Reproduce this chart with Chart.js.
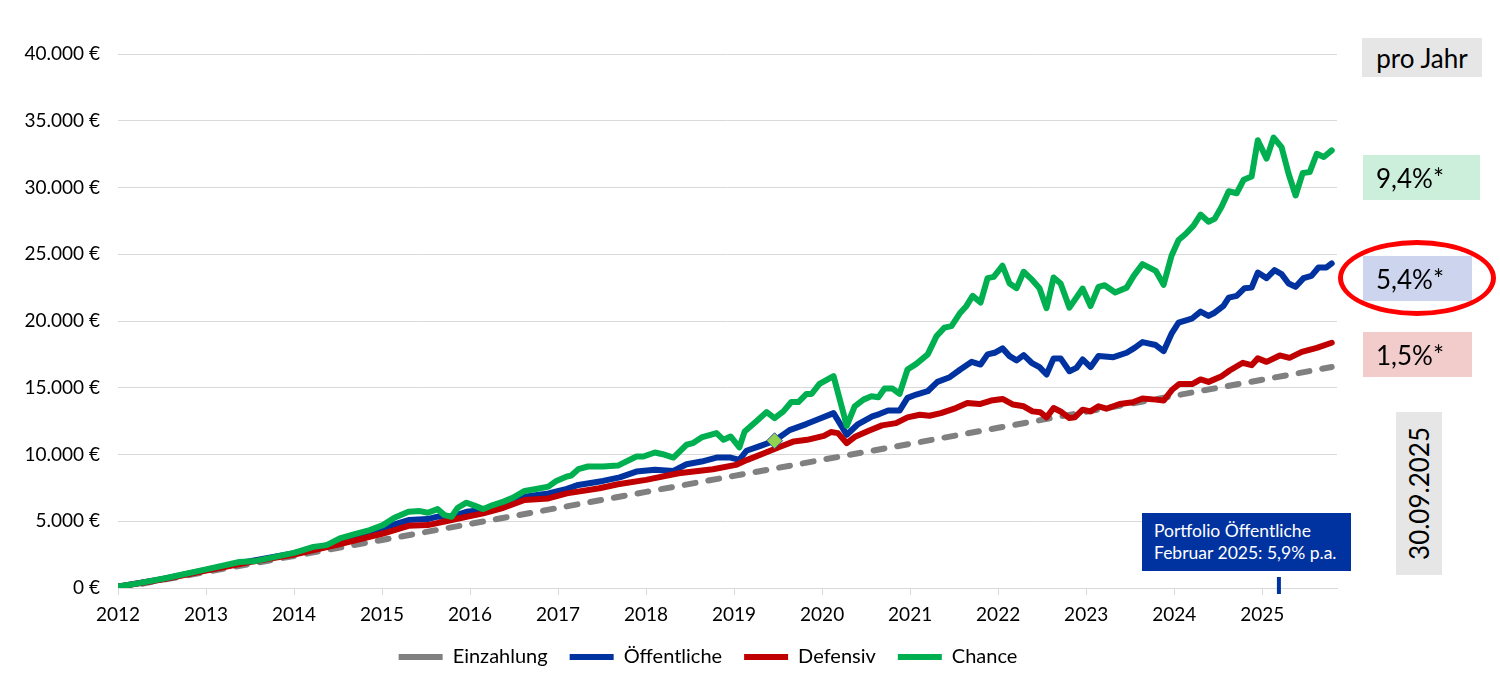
<!DOCTYPE html>
<html lang="de">
<head>
<meta charset="utf-8">
<title>Portfolio Vergleich</title>
<script src="https://cdn.jsdelivr.net/npm/chart.js@4.4.1/dist/chart.umd.min.js"></script>
<style>
    body { margin: 0; background: #fff; }
    #wrap { position: relative; width: 1500px; height: 684px; font-family: Lato, 'Noto Sans', sans-serif; }
    #chart { position: absolute; left: 0; top: 0; }
    .box { position: absolute; box-sizing: border-box; color: #000; font-size: 26px; line-height: 1; display: flex; align-items: center; }
    #proJahr { left: 1362px; top: 38px; width: 120px; height: 39px; background: #e7e6e6; justify-content: center; }
    #chanceBox { left: 1363px; top: 155px; width: 117px; height: 45px; background: #ccefdb; padding-left: 13px; }
    #oeffBox { left: 1363px; top: 256px; width: 109px; height: 45px; background: #cdd5ee; padding-left: 13px; }
    #defBox { left: 1363px; top: 332px; width: 109px; height: 45px; background: #f2cbcb; padding-left: 13px; }
    #ring { position: absolute; left: 1338px; top: 240px; width: 158px; height: 76px; box-sizing: border-box; border: 5px solid #ff0000; border-radius: 50%; }
    #dateBox { left: 1396px; top: 412px; width: 46px; height: 163px; background: #e6e6e6; justify-content: center; }
    #dateBox span { writing-mode: vertical-rl; transform: rotate(180deg); }
    #noteBox { left: 1142px; top: 513px; width: 209px; height: 58px; background: #0033a0; color: #fff; font-size: 17.5px; line-height: 22px; padding-left: 12px; }
</style>
</head>
<body>
<div id="wrap">
    <canvas id="chart" width="1500" height="684"></canvas>
    <div class="box" id="proJahr">pro Jahr</div>
    <div class="box" id="chanceBox">9,4%*</div>
    <div class="box" id="oeffBox">5,4%*</div>
    <div class="box" id="defBox">1,5%*</div>
    <div id="ring"></div>
    <div class="box" id="dateBox"><span>30.09.2025</span></div>
    <div class="box" id="noteBox">Portfolio Öffentliche<br>Februar 2025: 5,9% p.a.</div>
</div>
<script>
// values (x = decimal year, y = euro)
const einzahlungX = [2012, 2013, 2014, 2015, 2016, 2017, 2018, 2019, 2020, 2021, 2022, 2023, 2024, 2025, 2025.79];
const einzahlungY = [0, 1200, 2400, 3600, 4800, 6000, 7200, 8400, 9600, 10800, 12000, 13200, 14400, 15600, 16550];

const oeffentlicheX = [2012.00, 2012.50, 2013.00, 2013.50, 2014.00, 2014.50, 2015.01, 2015.30, 2015.52, 2015.63,
    2015.79, 2015.96, 2016.15, 2016.38, 2016.62, 2016.89, 2017.10, 2017.23, 2017.51, 2017.70,
    2017.89, 2018.10, 2018.31, 2018.46, 2018.63, 2018.80, 2018.96, 2019.06, 2019.14, 2019.30,
    2019.46, 2019.63, 2019.82, 2019.97, 2020.13, 2020.28, 2020.40, 2020.57, 2020.65, 2020.75,
    2020.88, 2020.97, 2021.07, 2021.20, 2021.31, 2021.45, 2021.57, 2021.70, 2021.80, 2021.88,
    2021.96, 2022.05, 2022.13, 2022.21, 2022.29, 2022.38, 2022.47, 2022.55, 2022.63, 2022.71,
    2022.81, 2022.89, 2022.96, 2023.05, 2023.14, 2023.31, 2023.46, 2023.55, 2023.64, 2023.79,
    2023.88, 2023.97, 2024.05, 2024.20, 2024.30, 2024.39, 2024.46, 2024.56, 2024.62, 2024.71,
    2024.80, 2024.88, 2024.95, 2025.05, 2025.14, 2025.22, 2025.30, 2025.38, 2025.47, 2025.56,
    2025.64, 2025.73, 2025.79];
const oeffentlicheY = [100, 660, 1350, 2000, 2600, 3400, 4510, 5090, 5160, 5340,
    5340, 5710, 5840, 6340, 6840, 7090, 7420, 7720, 8020, 8290,
    8720, 8850, 8770, 9270, 9470, 9770, 9770, 9600, 10280, 10650,
    11030, 11830, 12280, 12680, 13100, 11480, 12230, 12860, 13030, 13290,
    13290, 14240, 14490, 14740, 15440, 15790, 16370, 16940, 16740, 17500,
    17620, 17950, 17370, 17050, 17440, 16870, 16540, 15990, 17200, 17200,
    16240, 16490, 17120, 16540, 17370, 17290, 17620, 17990, 18420, 18200,
    17740, 19050, 19870, 20170, 20700, 20380, 20620, 21130, 21750, 21880,
    22460, 22500, 23630, 23210, 23810, 23510, 22810, 22560, 23210, 23380,
    24010, 24010, 24310];

const defensivX = [2012.00, 2012.50, 2013.00, 2013.50, 2014.00, 2014.50, 2015.01, 2015.30, 2015.52, 2015.79,
    2015.96, 2016.15, 2016.38, 2016.62, 2016.89, 2017.10, 2017.47, 2017.68, 2018.00, 2018.37,
    2018.76, 2019.02, 2019.15, 2019.34, 2019.53, 2019.68, 2019.83, 2020.02, 2020.10, 2020.18,
    2020.28, 2020.38, 2020.53, 2020.68, 2020.84, 2020.97, 2021.11, 2021.22, 2021.35, 2021.52,
    2021.65, 2021.79, 2021.92, 2022.05, 2022.17, 2022.29, 2022.39, 2022.48, 2022.55, 2022.63,
    2022.72, 2022.81, 2022.87, 2022.96, 2023.05, 2023.14, 2023.23, 2023.38, 2023.53, 2023.64,
    2023.79, 2023.88, 2023.98, 2024.06, 2024.21, 2024.30, 2024.39, 2024.54, 2024.63, 2024.78,
    2024.88, 2024.95, 2025.05, 2025.20, 2025.31, 2025.45, 2025.62, 2025.79];
const defensivY = [100, 640, 1300, 1950, 2500, 3250, 4080, 4660, 4710, 5090,
    5340, 5590, 6010, 6590, 6710, 7090, 7470, 7770, 8100, 8600,
    8900, 9220, 9600, 10100, 10600, 10980, 11100, 11400, 11680, 11600,
    10850, 11350, 11780, 12180, 12350, 12780, 12980, 12900, 13100, 13480,
    13860, 13780, 14040, 14160, 13740, 13610, 13230, 13160, 12780, 13480,
    13180, 12730, 12780, 13360, 13230, 13610, 13430, 13780, 13910, 14190,
    14110, 14040, 14870, 15290, 15290, 15620, 15440, 15870, 16290, 16870,
    16690, 17200, 16940, 17420, 17240, 17690, 17990, 18370];

const chanceX = [2012.00, 2012.21, 2012.55, 2013.00, 2013.38, 2013.57, 2014.00, 2014.22, 2014.37, 2014.52,
    2014.71, 2014.86, 2015.01, 2015.14, 2015.30, 2015.43, 2015.52, 2015.63, 2015.71, 2015.79,
    2015.86, 2015.96, 2016.05, 2016.15, 2016.26, 2016.38, 2016.49, 2016.62, 2016.75, 2016.89,
    2016.98, 2017.10, 2017.15, 2017.23, 2017.34, 2017.51, 2017.68, 2017.89, 2017.97, 2018.10,
    2018.19, 2018.31, 2018.46, 2018.53, 2018.63, 2018.80, 2018.88, 2018.96, 2019.06, 2019.12,
    2019.25, 2019.37, 2019.46, 2019.56, 2019.65, 2019.73, 2019.82, 2019.88, 2019.97, 2020.13,
    2020.28, 2020.37, 2020.47, 2020.56, 2020.64, 2020.71, 2020.80, 2020.88, 2020.97, 2021.07,
    2021.20, 2021.30, 2021.39, 2021.47, 2021.57, 2021.64, 2021.71, 2021.80, 2021.88, 2021.95,
    2022.05, 2022.13, 2022.21, 2022.29, 2022.39, 2022.47, 2022.55, 2022.63, 2022.71, 2022.81,
    2022.96, 2023.05, 2023.14, 2023.21, 2023.33, 2023.46, 2023.54, 2023.64, 2023.79, 2023.88,
    2023.97, 2024.05, 2024.13, 2024.22, 2024.30, 2024.39, 2024.46, 2024.54, 2024.62, 2024.71,
    2024.79, 2024.88, 2024.95, 2025.05, 2025.13, 2025.22, 2025.30, 2025.38, 2025.46, 2025.54,
    2025.62, 2025.70, 2025.79];
const chanceY = [100, 330, 750, 1400, 1950, 2030, 2630, 3080, 3210, 3710,
    4080, 4340, 4710, 5260, 5710, 5760, 5640, 5910, 5460, 5340,
    6010, 6390, 6170, 5910, 6210, 6470, 6770, 7270, 7420, 7590,
    8020, 8350, 8420, 8900, 9100, 9100, 9170, 9850, 9850, 10150,
    10020, 9770, 10730, 10850, 11280, 11600, 11100, 11350, 10530, 11730,
    12480, 13180, 12730, 13230, 13930, 13930, 14530, 14530, 15290, 15870,
    12150, 13610, 14110, 14360, 14290, 14940, 14940, 14540, 16370, 16790,
    17500, 18870, 19500, 19620, 20620, 21130, 21880, 21380, 23210, 23310,
    24140, 22810, 22460, 23690, 23060, 22460, 20960, 23260, 22810, 21000,
    22430, 21130, 22560, 22680, 22130, 22500, 23380, 24260, 23760, 22710,
    24890, 26070, 26520, 27140, 27970, 27440, 27650, 28570, 29720, 29570,
    30580, 30830, 33540, 32160, 33740, 33030, 31030, 29400, 31080, 31150,
    32530, 32280, 32780];

// green diamond on the Öffentliche line, blue mark for February 2025
const diamondX = [2019.46];
const diamondY = [11030];
const noteMarkYear = 2025.19;

const yTicks = [0, 5000, 10000, 15000, 20000, 25000, 30000, 35000, 40000];

const toPoints = (xs, ys) => xs.map((x, i) => ({ x: x, y: ys[i] }));
const euro = (v) => v.toString().replace(/\B(?=(\d{3})+(?!\d))/g, '.') + ' €';

const lineStyle = (color) => ({
    borderColor: color,
    backgroundColor: color,
    borderWidth: 6,
    pointRadius: 0,
    tension: 0,
    borderJoinStyle: 'round',
    borderCapStyle: 'round',
    fill: false
});

const noteMark = {
    id: 'noteMark',
    afterDraw(chart) {
        const { ctx, chartArea, scales } = chart;
        const x = scales.x.getPixelForValue(noteMarkYear);
        ctx.save();
        ctx.strokeStyle = '#0033a0';
        ctx.lineWidth = 4;
        ctx.beginPath();
        ctx.moveTo(x, chartArea.bottom - 11);
        ctx.lineTo(x, chartArea.bottom + 6);
        ctx.stroke();
        ctx.restore();
    }
};

const tickFont = { family: 'Lato', size: 19 };

const ctx = document.getElementById('chart').getContext('2d');
new Chart(ctx, {
    type: 'line',
    data: {
        datasets: [
            { label: 'Einzahlung', data: toPoints(einzahlungX, einzahlungY), ...lineStyle('#808080'), borderDash: [11, 13], order: 4 },
            { label: 'Öffentliche', data: toPoints(oeffentlicheX, oeffentlicheY), ...lineStyle('#0033a0'), order: 3 },
            { label: 'Defensiv', data: toPoints(defensivX, defensivY), ...lineStyle('#c00000'), order: 2 },
            { label: 'Chance', data: toPoints(chanceX, chanceY), ...lineStyle('#00b050'), order: 1 },
            {
                label: '', data: toPoints(diamondX, diamondY), showLine: false,
                pointStyle: 'rectRot', pointRadius: 8, pointBackgroundColor: '#92d050',
                pointBorderColor: '#2f4fa8', pointBorderWidth: 1, order: 0
            }
        ]
    },
    options: {
        responsive: false,
        animation: false,
        devicePixelRatio: 1,
        // right padding + spacer axis keep the plot edge at 1337 and centre the legend like the original
        layout: { padding: { left: 0, right: 84, top: 54, bottom: 7 } },
        scales: {
            x: {
                type: 'linear',
                min: 2012,
                max: 2025.85,
                afterFit: (scale) => { scale.height = 37; },
                ticks: {
                    stepSize: 1,
                    includeBounds: false,
                    autoSkip: false,
                    maxRotation: 0,
                    padding: 8,
                    color: '#000',
                    font: tickFont,
                    callback: (v) => Number.isInteger(v) ? String(v) : ''
                },
                grid: { drawOnChartArea: false, tickLength: 7, color: '#d9d9d9' },
                border: { color: '#d9d9d9' }
            },
            y: {
                min: 0,
                max: 40000,
                afterFit: (scale) => { scale.width = 118; },
                afterBuildTicks: (scale) => { scale.ticks = yTicks.map(v => ({ value: v })); },
                ticks: { padding: 18, color: '#000', font: tickFont, callback: (v) => euro(v) },
                grid: { color: '#d9d9d9', drawTicks: false },
                border: { display: false }
            },
            spacer: {
                position: 'right',
                afterFit: (scale) => { scale.width = 79; },
                ticks: { display: false },
                grid: { display: false },
                border: { display: false }
            }
        },
        plugins: {
            tooltip: { enabled: false },
            legend: {
                position: 'bottom',
                labels: {
                    usePointStyle: true,
                    pointStyle: 'line',
                    pointStyleWidth: 44,
                    padding: 22,
                    color: '#000',
                    font: { family: 'Lato', size: 20 },
                    filter: (item) => item.text !== '',
                    sort: (a, b) => a.datasetIndex - b.datasetIndex
                }
            }
        }
    },
    plugins: [noteMark]
});
</script>
</body>
</html>
